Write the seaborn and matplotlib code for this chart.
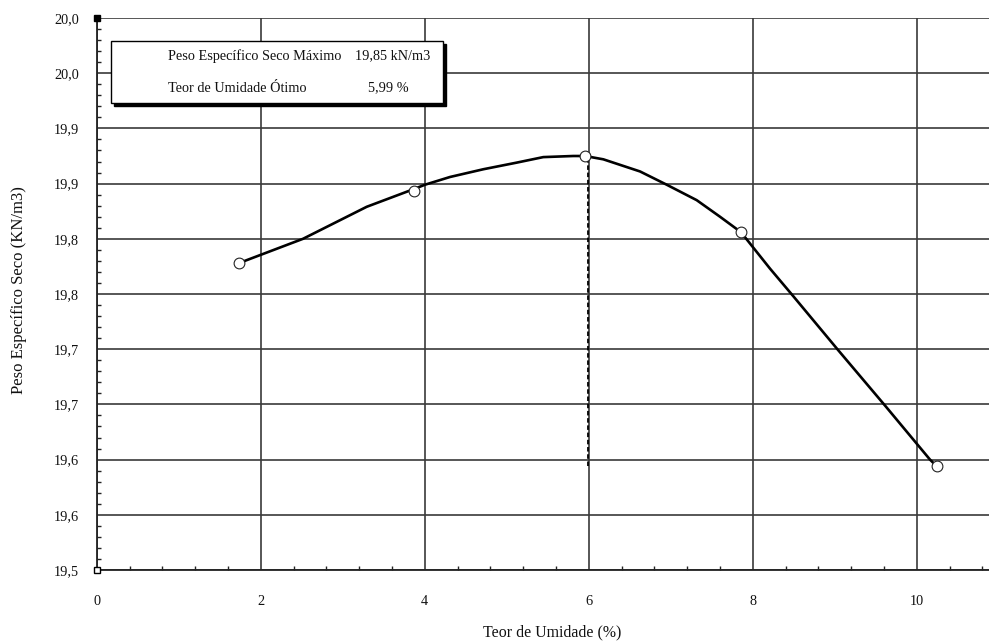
import matplotlib
matplotlib.use("Agg")
import matplotlib.pyplot as plt
import seaborn as sns
import pandas as pd
from matplotlib.patches import Rectangle
from matplotlib.ticker import AutoMinorLocator

# measured points (moisture %, dry unit weight)
pt_x = [1.735, 3.866, 5.955, 7.857, 10.244]
pt_y = [19.778, 19.843, 19.875, 19.806, 19.594]

# drawn compaction curve
curve_x = [1.735, 2.516, 3.293, 3.866, 4.004, 4.309, 4.715, 5.122, 5.446,
           5.812, 5.955, 6.178, 6.626, 6.951, 7.317, 7.601, 7.857, 8.211, 8.495,
           9.044, 9.613, 10.162, 10.244]
curve_y = [19.778, 19.800, 19.829, 19.845, 19.849, 19.856, 19.863, 19.869, 19.874,
           19.875, 19.875, 19.872, 19.861, 19.849, 19.835, 19.820, 19.806, 19.773, 19.748,
           19.699, 19.649, 19.600, 19.594]

opt_x = 5.99
y_ticks = [19.50, 19.55, 19.60, 19.65, 19.70, 19.75, 19.80, 19.85, 19.90, 19.95, 20.00]
y_labels = ["19,5", "19,6", "19,6", "19,7", "19,7", "19,8", "19,8", "19,9", "19,9", "20,0", "20,0"]
x_ticks = [0, 2, 4, 6, 8, 10]
x_labels = ["0", "2", "4", "6", "8", "10"]

info_names = ["Peso Específico Seco Máximo", "Teor de Umidade Ótimo"]
info_values = ["19,85 kN/m3", "5,99 %"]

sns.set_theme(style="white")
plt.rcParams["font.family"] = ["Liberation Serif", "DejaVu Serif"]

W, H = 989, 643
AX_L, AX_B, AX_T = 96.7, 570, 18
fig = plt.figure(figsize=(W / 100, H / 100), dpi=100)
ax = fig.add_axes([AX_L / W, 1 - AX_B / H, 1 - AX_L / W, (AX_B - AX_T) / H])

curve = pd.DataFrame({"x": curve_x, "y": curve_y})
pts = pd.DataFrame({"x": pt_x, "y": pt_y})

ax.set_xlim(0, (W - AX_L) / 82)
ax.set_ylim(19.50, 20.00)
ax.set_yticks(y_ticks)
ax.set_yticklabels(y_labels)
ax.set_xticks(x_ticks)
ax.set_xticklabels(x_labels)
ax.xaxis.set_minor_locator(AutoMinorLocator(5))
ax.yaxis.set_minor_locator(AutoMinorLocator(5))
ax.grid(True, which="major", color="#3a3a3a", linewidth=1.2)
ax.set_axisbelow(True)

# dashed optimum line
ax.plot([opt_x, opt_x], [min(pt_y), max(pt_y)], color="black", linestyle=(0, (2.5, 1.5)),
        linewidth=1.3, zorder=3)

sns.lineplot(data=curve, x="x", y="y", sort=False, color="black", linewidth=1.9,
             ax=ax, zorder=4)
sns.scatterplot(data=pts, x="x", y="y", s=60, facecolor="white", edgecolor="#222222",
                linewidth=0.8, ax=ax, zorder=5)

for s in ["top", "right"]:
    ax.spines[s].set_visible(False)
for s in ["left", "bottom"]:
    ax.spines[s].set_color("#222222")
    ax.spines[s].set_linewidth(1.3)

ax.tick_params(which="major", direction="out", length=4, width=1.2, color="#222222",
               labelsize=10.3, labelcolor="#111111")
ax.tick_params(axis="x", which="major", pad=14)
ax.tick_params(axis="y", which="major", pad=9)
ax.tick_params(which="minor", direction="in", length=3, width=1.0, color="#222222",
               left=True, bottom=True)

ax.set_xlabel("Teor de Umidade (%)", fontsize=11.4, color="#111111")
ax.set_ylabel("Peso Específico Seco (KN/m3)", fontsize=12, color="#111111")
span_w = W - AX_L
span_h = AX_B - AX_T
ax.xaxis.label.set_va("center")
ax.xaxis.set_label_coords((552 - AX_L) / span_w, -(632 - AX_B) / span_h)
ax.yaxis.label.set_va("center")
ax.yaxis.set_label_coords((19 - AX_L) / span_w, (AX_B - 290) / span_h)

# corner markers
ax.plot([0], [20.0], marker="s", markersize=4, color="black", clip_on=False, zorder=6)
ax.plot([0], [19.5], marker="s", markersize=4, markerfacecolor="white",
        markeredgecolor="black", clip_on=False, zorder=6)

# info box with shadow (figure pixel coordinates)
bx0, by0, bx1, by1 = 111, 41, 443, 103
fig.patches.append(Rectangle(((bx0 + 3) / W, 1 - (by1 + 3) / H), (bx1 - bx0) / W,
                             (by1 - by0) / H, transform=fig.transFigure,
                             facecolor="black", edgecolor="black", zorder=10))
fig.patches.append(Rectangle((bx0 / W, 1 - by1 / H), (bx1 - bx0) / W, (by1 - by0) / H,
                             transform=fig.transFigure, facecolor="white",
                             edgecolor="black", linewidth=1.0, zorder=11))
fs_box = 10.3
fig.text(168 / W, 1 - 56 / H, info_names[0], fontsize=fs_box, va="center", ha="left",
         color="#111111", zorder=12)
fig.text(168 / W, 1 - 88 / H, info_names[1], fontsize=fs_box, va="center", ha="left",
         color="#111111", zorder=12)
fig.text(355 / W, 1 - 56 / H, info_values[0], fontsize=fs_box, va="center", ha="left",
         color="#111111", zorder=12)
fig.text(368 / W, 1 - 88 / H, info_values[1], fontsize=fs_box, va="center", ha="left",
         color="#111111", zorder=12)

fig.savefig("out.png", dpi=100, facecolor="white")
